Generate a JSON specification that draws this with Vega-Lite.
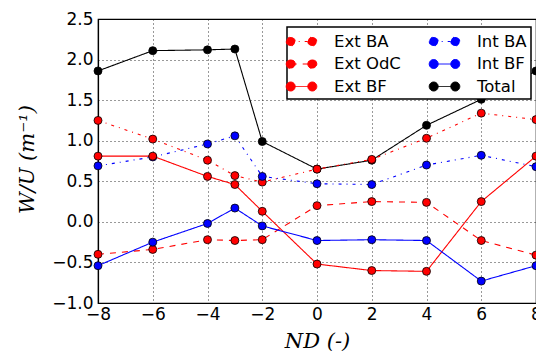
{
  "$schema": "https://vega.github.io/schema/vega-lite/v6.json",
  "width": 438,
  "height": 284,
  "autosize": {"type": "none"},
  "padding": {"left": 98, "top": 19, "right": 0, "bottom": 48},
  "background": "white",
  "config": {
    "view": {"stroke": "black", "strokeWidth": 1.2},
    "font": "DejaVu Sans",
    "axis": {
      "domainColor": "black",
      "domainWidth": 1.2,
      "gridColor": "black",
      "gridDash": [1, 3],
      "gridWidth": 1,
      "gridOpacity": 0.8,
      "ticks": false,
      "labelFont": "DejaVu Sans",
      "labelFontSize": 17,
      "labelColor": "black",
      "titleFont": "DejaVu Serif",
      "titleFontStyle": "italic",
      "titleFontWeight": "normal",
      "titleFontSize": 21,
      "titleColor": "black"
    },
    "legend": {
      "labelFont": "DejaVu Sans",
      "labelFontSize": 16.5,
      "labelColor": "black",
      "labelOffset": 22,
      "padding": 4,
      "rowPadding": 3.5,
      "columnPadding": 26,
      "fillColor": "white",
      "strokeColor": "black",
      "cornerRadius": 0
    }
  },
  "data": {
    "values": [
      {"nd": -8, "series": "Total", "v": 1.86},
      {"nd": -6, "series": "Total", "v": 2.11},
      {"nd": -4, "series": "Total", "v": 2.12},
      {"nd": -3, "series": "Total", "v": 2.13},
      {"nd": -2, "series": "Total", "v": 0.99},
      {"nd": 0, "series": "Total", "v": 0.65},
      {"nd": 2, "series": "Total", "v": 0.76},
      {"nd": 4, "series": "Total", "v": 1.19},
      {"nd": 6, "series": "Total", "v": 1.51},
      {"nd": 8, "series": "Total", "v": 1.86},
      {"nd": -8, "series": "Ext BA", "v": 1.25},
      {"nd": -6, "series": "Ext BA", "v": 1.02},
      {"nd": -4, "series": "Ext BA", "v": 0.76},
      {"nd": -3, "series": "Ext BA", "v": 0.57},
      {"nd": -2, "series": "Ext BA", "v": 0.49},
      {"nd": 0, "series": "Ext BA", "v": 0.65},
      {"nd": 2, "series": "Ext BA", "v": 0.77},
      {"nd": 4, "series": "Ext BA", "v": 1.03},
      {"nd": 6, "series": "Ext BA", "v": 1.34},
      {"nd": 8, "series": "Ext BA", "v": 1.26},
      {"nd": -8, "series": "Int BA", "v": 0.69},
      {"nd": -6, "series": "Int BA", "v": 0.8},
      {"nd": -4, "series": "Int BA", "v": 0.96},
      {"nd": -3, "series": "Int BA", "v": 1.06},
      {"nd": -2, "series": "Int BA", "v": 0.56},
      {"nd": 0, "series": "Int BA", "v": 0.47},
      {"nd": 2, "series": "Int BA", "v": 0.46},
      {"nd": 4, "series": "Int BA", "v": 0.7},
      {"nd": 6, "series": "Int BA", "v": 0.82},
      {"nd": 8, "series": "Int BA", "v": 0.68},
      {"nd": -8, "series": "Ext BF", "v": 0.81},
      {"nd": -6, "series": "Ext BF", "v": 0.81},
      {"nd": -4, "series": "Ext BF", "v": 0.56},
      {"nd": -3, "series": "Ext BF", "v": 0.46},
      {"nd": -2, "series": "Ext BF", "v": 0.13},
      {"nd": 0, "series": "Ext BF", "v": -0.52},
      {"nd": 2, "series": "Ext BF", "v": -0.6},
      {"nd": 4, "series": "Ext BF", "v": -0.61},
      {"nd": 6, "series": "Ext BF", "v": 0.25},
      {"nd": 8, "series": "Ext BF", "v": 0.81},
      {"nd": -8, "series": "Ext OdC", "v": -0.4},
      {"nd": -6, "series": "Ext OdC", "v": -0.34},
      {"nd": -4, "series": "Ext OdC", "v": -0.22},
      {"nd": -3, "series": "Ext OdC", "v": -0.23},
      {"nd": -2, "series": "Ext OdC", "v": -0.22},
      {"nd": 0, "series": "Ext OdC", "v": 0.2},
      {"nd": 2, "series": "Ext OdC", "v": 0.25},
      {"nd": 4, "series": "Ext OdC", "v": 0.24},
      {"nd": 6, "series": "Ext OdC", "v": -0.23},
      {"nd": 8, "series": "Ext OdC", "v": -0.41},
      {"nd": -8, "series": "Int BF", "v": -0.54},
      {"nd": -6, "series": "Int BF", "v": -0.25},
      {"nd": -4, "series": "Int BF", "v": -0.02},
      {"nd": -3, "series": "Int BF", "v": 0.17},
      {"nd": -2, "series": "Int BF", "v": -0.05},
      {"nd": 0, "series": "Int BF", "v": -0.23},
      {"nd": 2, "series": "Int BF", "v": -0.22},
      {"nd": 4, "series": "Int BF", "v": -0.23},
      {"nd": 6, "series": "Int BF", "v": -0.73},
      {"nd": 8, "series": "Int BF", "v": -0.54}
    ]
  },
  "encoding": {
    "x": {
      "field": "nd",
      "type": "quantitative",
      "scale": {"domain": [-8, 8], "nice": false, "zero": false},
      "axis": {
        "values": [-8, -6, -4, -2, 0, 2, 4, 6, 8],
        "format": "d",
        "labelPadding": 3,
        "labelFlush": false,
        "title": "ND (-)",
        "titleX": 219,
        "titleY": 44,
        "titleBaseline": "alphabetic",
        "titleAlign": "center"
      }
    },
    "y": {
      "field": "v",
      "type": "quantitative",
      "scale": {"domain": [-1, 2.5], "nice": false, "zero": false},
      "axis": {
        "values": [-1, -0.5, 0, 0.5, 1, 1.5, 2, 2.5],
        "format": ".1f",
        "labelPadding": 5,
        "labelFlush": false,
        "title": "W/U (m⁻¹)",
        "titleX": -71,
        "titleY": 140,
        "titleAngle": -90,
        "titleBaseline": "middle",
        "titleAlign": "center"
      }
    },
    "color": {
      "field": "series",
      "type": "nominal",
      "scale": {
        "domain": ["Ext BA", "Ext OdC", "Ext BF", "Int BA", "Int BF", "Total"],
        "range": ["#ff0000", "#ff0000", "#ff0000", "#0000ff", "#0000ff", "#000000"]
      },
      "legend": {
        "title": null,
        "orient": "none",
        "legendX": 189,
        "legendY": 8,
        "columns": 2,
        "symbolSize": 400,
        "symbolStrokeWidth": 1,
        "symbolType": "M-1.08,0L1.08,0M-1.53,0A0.45,0.45 0 1,0 -0.63,0A0.45,0.45 0 1,0 -1.53,0ZM0.63,0A0.45,0.45 0 1,0 1.53,0A0.45,0.45 0 1,0 0.63,0Z",
        "encode": {
          "symbols": {"update": {"fill": {"scale": "color", "field": "value"}, "stroke": {"scale": "color", "field": "value"}, "opacity": {"value": 1}}},
          "legend": {"update": {"strokeWidth": {"value": 1.5}}}
        }
      }
    }
  },
  "layer": [
    {
      "mark": {"type": "line", "strokeWidth": 1.1},
      "encoding": {
        "strokeDash": {
          "field": "series",
          "type": "nominal",
          "scale": {
            "domain": ["Ext BA", "Ext OdC", "Ext BF", "Int BA", "Int BF", "Total"],
            "range": [[3, 5, 1, 5], [6, 6], [1, 0], [3, 5, 1, 5], [1, 0], [1, 0]]
          },
          "legend": {
            "title": null,
            "orient": "none",
            "legendX": 189,
            "legendY": 8,
            "columns": 2,
            "symbolSize": 400
          }
        }
      }
    },
    {
      "mark": {"type": "point", "filled": true, "size": 64, "stroke": "black", "strokeWidth": 0.8, "opacity": 1}
    }
  ]
}
